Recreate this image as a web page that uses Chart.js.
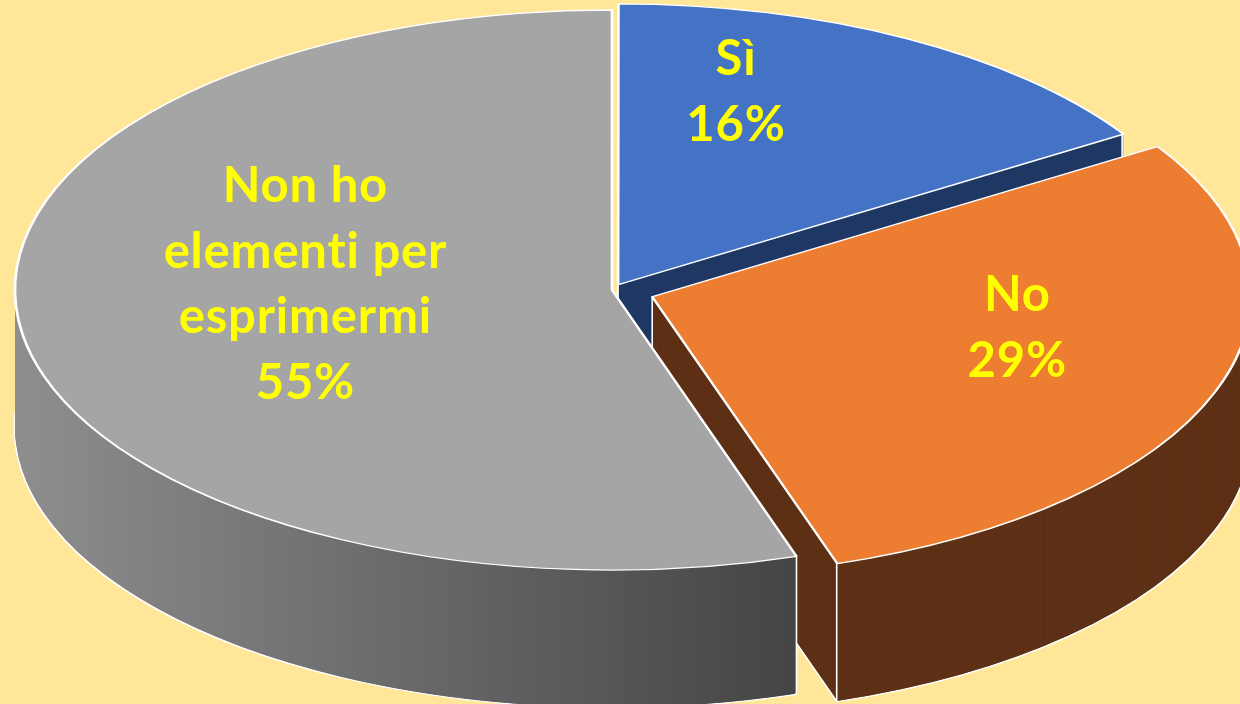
<!DOCTYPE html>
<html>
<head>
<meta charset="utf-8">
<script src="https://cdn.jsdelivr.net/npm/chart.js@4/dist/chart.umd.min.js"></script>
<style>
  html, body { margin: 0; padding: 0; background: #FFE699; }
  #wrap { width: 1240px; height: 704px; }
</style>
</head>
<body>
<div id="wrap"><canvas id="pieChart" width="1240" height="704"></canvas></div>
<script>
// survey answers
const categories = ['Sì', 'No', 'Non ho elementi per esprimermi'];
const shares = [16, 29, 55];
const labelLines = [['Sì'], ['No'], ['Non ho', 'elementi per', 'esprimermi']];

const topColors = ['#4472C4', '#ED7D31', '#A5A5A5'];
const wallShades = [['#203864'], ['#5E3116'], ['#8E8E8E', '#414141']];
const explode = [26, 88, 0];

// where the tilted pie sits on the page
const view = { cx: 612, cy: 290, rx: 597, ry: 280, depth: 138 };
const labelRadius = [0.41, 0.65, 0.52];
const labelLift = [92, 30, 28];

function mid(arc) {
    return (arc.startAngle + arc.endAngle) / 2;
}

// how far toward the viewer a slice reaches (1 = front edge)
function frontness(arc) {
    const down = Math.PI / 2;
    let a = down;
    while (a > arc.startAngle) a -= 2 * Math.PI;
    while (a < arc.startAngle) a += 2 * Math.PI;
    if (a <= arc.endAngle) return 1;
    return Math.max(Math.sin(arc.startAngle), Math.sin(arc.endAngle));
}

function toScreen(arc, x, y) {
    const r = arc.outerRadius;
    return {
        x: view.cx + (x - arc.x) * view.rx / r,
        y: view.cy + (y - arc.y) * view.ry / r
    };
}

const tiltPlugin = {
    id: 'tilt',
    beforeDatasetsDraw(chart) {
        const ctx = chart.ctx;
        const arcs = chart.getDatasetMeta(0).data;
        const a0 = arcs[0];
        const r = a0.outerRadius;
        const sx = view.rx / r;
        const sy = view.ry / r;
        const step = 1 / sy;

        ctx.save();
        ctx.translate(view.cx, view.cy);
        ctx.scale(sx, sy);
        ctx.translate(-a0.x, -a0.y);

        // back slices first
        const order = arcs.map((a, i) => i)
            .sort((i, j) => frontness(arcs[i]) - frontness(arcs[j]));

        order.forEach(i => {
            const arc = arcs[i];
            const shade = wallShades[i];
            let fill = shade[0];
            if (shade.length > 1) {
                fill = ctx.createLinearGradient(arc.x - r, 0, arc.x + r * 0.37, 0);
                fill.addColorStop(0, shade[0]);
                fill.addColorStop(1, shade[1]);
            }

            const body = Object.create(arc);
            for (let k = view.depth; k >= 1; k--) {
                body.options = Object.assign({}, arc.options, {
                    backgroundColor: fill,
                    borderColor: '#FFFFFF',
                    borderWidth: k === view.depth ? arc.options.borderWidth : 0
                });
                ctx.save();
                ctx.translate(0, k * step);
                body.draw(ctx);
                ctx.restore();
            }

            // white vertical edges of the slice
            const off = (arc.options.offset || 0) / 4;
            const m = mid(arc);
            const ox = arc.x + Math.cos(m) * off;
            const oy = arc.y + Math.sin(m) * off;
            const corners = [
                [ox, oy],
                [ox + Math.cos(arc.startAngle) * r, oy + Math.sin(arc.startAngle) * r],
                [ox + Math.cos(arc.endAngle) * r, oy + Math.sin(arc.endAngle) * r]
            ];
            ctx.strokeStyle = '#FFFFFF';
            ctx.lineWidth = 1.6 / sx;
            corners.forEach(([x, y]) => {
                ctx.beginPath();
                ctx.moveTo(x, y);
                ctx.lineTo(x, y + view.depth * step);
                ctx.stroke();
            });
        });
    },
    afterDatasetsDraw(chart) {
        const ctx = chart.ctx;
        ctx.restore();

        const arcs = chart.getDatasetMeta(0).data;
        ctx.save();
        ctx.font = 'bold 49px Lato';
        ctx.letterSpacing = '0.8px';
        ctx.textRendering = 'optimizeSpeed';
        ctx.fillStyle = '#FFFF00';
        ctx.textAlign = 'center';
        ctx.textBaseline = 'middle';
        const lineHeight = 65.5;
        arcs.forEach((arc, i) => {
            const m = mid(arc);
            const dist = arc.outerRadius * labelRadius[i] + (arc.options.offset || 0) / 4;
            const p = toScreen(arc, arc.x + Math.cos(m) * dist, arc.y + Math.sin(m) * dist);
            const lines = labelLines[i].concat(shares[i] + '%');
            lines.forEach((t, k) => {
                ctx.fillText(t, p.x, p.y - labelLift[i] + (k - (lines.length - 1) / 2) * lineHeight);
            });
        });
        ctx.restore();
    }
};

new Chart(document.getElementById('pieChart'), {
    type: 'pie',
    data: {
        labels: categories,
        datasets: [{
            data: shares,
            backgroundColor: topColors,
            borderColor: '#FFFFFF',
            borderWidth: 1.4,
            offset: explode,
            clip: { left: 2000, top: 2000, right: 2000, bottom: 2000 }
        }]
    },
    options: {
        responsive: false,
        animation: false,
        devicePixelRatio: 1,
        events: [],
        layout: { padding: 0 },
        plugins: {
            legend: { display: false },
            tooltip: { enabled: false }
        }
    },
    plugins: [tiltPlugin]
});
</script>
</body>
</html>
